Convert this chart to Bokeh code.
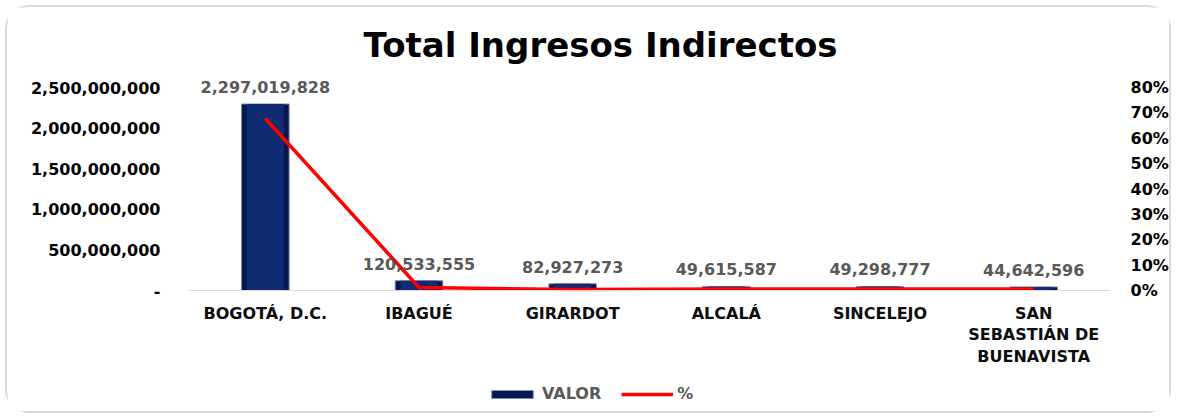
from bokeh.plotting import figure
from bokeh.models import (ColumnDataSource, Range1d, LinearAxis, CustomJSTickFormatter,
                          NumeralTickFormatter, Legend, LegendItem, FactorRange, Span)
from bokeh.core.properties import value
from bokeh.embed import file_html
from bokeh.resources import INLINE

municipios = ["BOGOTÁ, D.C.", "IBAGUÉ", "GIRARDOT", "ALCALÁ", "SINCELEJO",
              "SAN SEBASTIÁN DE BUENAVISTA"]
valores = [2297019828, 120533555, 82927273, 49615587, 49298777, 44642596]
porcentajes = [0.678, 0.012, 0.004, 0.006, 0.006, 0.006]
etiquetas = ["2,297,019,828", "120,533,555", "82,927,273", "49,615,587",
             "49,298,777", "44,642,596"]
pct_ticks = [0, 0.1, 0.2, 0.3, 0.4, 0.5, 0.6, 0.7, 0.8]
val_ticks = [0, 500000000, 1000000000, 1500000000, 2000000000, 2500000000]

# label wrapping as in the original chart
ajuste = {"SAN SEBASTIÁN DE BUENAVISTA": "SAN\nSEBASTIÁN DE\nBUENAVISTA"}
factores = [ajuste.get(m, m) for m in municipios]

FONT = "DejaVu Sans"

# layout (pixels, canvas coords): axis span 0..max, plus room above/below inside the frame
W, H = 1166, 408
LEFT, RIGHT = 181, 1103
FRAME_TOP, AXIS_TOP, AXIS_ZERO, FRAME_BOTTOM = 63, 80, 283, 403
VMAX, PMAX = 2500000000, 0.8
k_up = (AXIS_TOP - FRAME_TOP) / (AXIS_ZERO - AXIS_TOP)
k_dn = (FRAME_BOTTOM - AXIS_ZERO) / (AXIS_ZERO - AXIS_TOP)

src = ColumnDataSource(dict(x=factores, v=valores, p=porcentajes, lab=etiquetas,
                            z=[0] * len(factores)))

p = figure(width=W, height=H, x_range=FactorRange(*factores),
           y_range=Range1d(-VMAX * k_dn, VMAX * (1 + k_up)), output_backend="svg",
           toolbar_location=None, min_border_left=LEFT, min_border_right=W - RIGHT,
           min_border_top=FRAME_TOP, min_border_bottom=H - FRAME_BOTTOM)
p.styles = {"border": "2px solid #d9d9d9", "border-radius": "24px",
            "margin": "5px 0px 0px 5px"}
p.outline_line_color = None
p.xgrid.grid_line_color = None
p.ygrid.grid_line_color = None
p.background_fill_color = "white"
p.border_fill_color = "white"
p.xaxis.visible = False

p.title.text = "Total Ingresos Indirectos"
p.title.text_font = FONT
p.title.text_font_size = "34px"
p.title.text_font_style = "bold"
p.title.text_color = "#000000"
p.title.align = "left"
p.title.offset = 175
p.title.standoff = 11

p.extra_y_ranges = {"pct": Range1d(-PMAX * k_dn, PMAX * (1 + k_up))}

# baseline
p.add_layout(Span(location=0, dimension="width", line_color="#D9D9D9", line_width=1))

bars = p.vbar(x="x", top="v", width=0.31, source=src, fill_color="#071850",
              line_color="#8090B8", line_width=1)
p.vbar(x="x", top="v", width=0.24, source=src, fill_color="#0F2C72",
       line_color=None)
line = p.line(x="x", y="p", source=src, y_range_name="pct", line_color="#FF0000",
              line_width=3.5)

# data labels
p.text(x="x", y="v", text="lab", source=src, y_offset=-11, text_align="center",
       text_baseline="bottom", text_font=value(FONT), text_font_size="16px",
       text_font_style="bold", text_color="#595959")

# category labels
p.text(x="x", y="z", text="x", source=src, y_offset=13, text_align="center",
       text_baseline="top", text_font=value(FONT), text_font_size="16px",
       text_font_style="bold", text_color="#0D0D0D", text_line_height=1.14)

ya = p.yaxis[0]
ya.ticker = val_ticks
ya.formatter = CustomJSTickFormatter(code="""
    return tick == 0 ? "-" : Math.round(tick).toLocaleString("en-US");
""")
ya.axis_line_color = None
ya.major_tick_line_color = None
ya.minor_tick_line_color = None
ya.major_label_text_font = FONT
ya.major_label_text_font_size = "16px"
ya.major_label_text_font_style = "bold"
ya.major_label_text_color = "#000000"
ya.major_label_standoff = 22

ra = LinearAxis(y_range_name="pct", ticker=pct_ticks,
                formatter=NumeralTickFormatter(format="0%"))
ra.axis_line_color = None
ra.major_tick_line_color = None
ra.minor_tick_line_color = None
ra.major_label_text_font = FONT
ra.major_label_text_font_size = "16px"
ra.major_label_text_font_style = "bold"
ra.major_label_text_color = "#000000"
ra.major_label_standoff = 14
p.add_layout(ra, "right")

legend = Legend(items=[LegendItem(label="VALOR", renderers=[bars]),
                       LegendItem(label="%", renderers=[line])],
                orientation="horizontal", location=(298, 7),
                glyph_width=52, glyph_height=10, spacing=20, label_standoff=4,
                label_text_font=FONT, label_text_font_size="16px",
                label_text_font_style="bold", label_text_color="#595959",
                border_line_color=None, background_fill_alpha=0,
                margin=0, padding=4)
p.add_layout(legend)

open("out.html", "w").write(file_html(p, INLINE))
